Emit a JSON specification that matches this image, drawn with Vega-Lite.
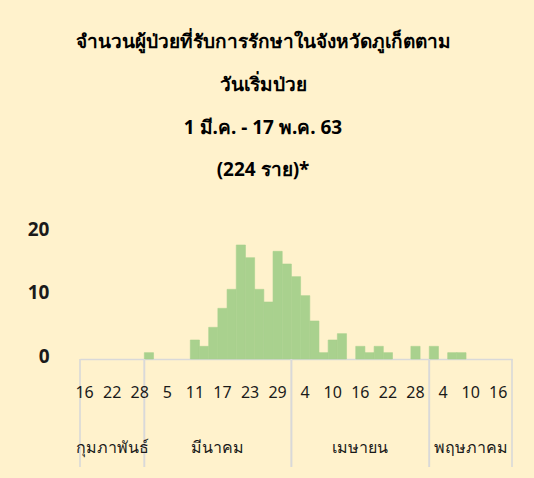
{
  "$schema": "https://vega.github.io/schema/vega-lite/v6.json",
  "width": 432,
  "height": 133,
  "autosize": {"type": "none"},
  "padding": {"left": 80, "top": 226, "right": 22, "bottom": 119},
  "background": "#FFF2CC",
  "title": {
    "text": ["จำนวนผู้ป่วยที่รับการรักษาในจังหวัดภูเก็ตตาม", "วันเริ่มป่วย", "1 มี.ค.  - 17 พ.ค. 63", "(224 ราย)*"],
    "fontSize": 19,
    "fontWeight": "bold",
    "lineHeight": 42.7,
    "color": "#000000",
    "anchor": "middle",
    "frame": "group",
    "dx": -33,
    "offset": 40
  },
  "config": {
    "font": "Noto Sans",
    "view": {"stroke": null},
    "axis": {"grid": false}
  },
  "datasets": {
    "cases": [
      {"d": "2020-02-16", "n": 0}, {"d": "2020-02-18", "n": 0}, {"d": "2020-02-20", "n": 0},
      {"d": "2020-02-22", "n": 0}, {"d": "2020-02-24", "n": 0}, {"d": "2020-02-26", "n": 0},
      {"d": "2020-02-28", "n": 0}, {"d": "2020-03-01", "n": 1}, {"d": "2020-03-03", "n": 0},
      {"d": "2020-03-05", "n": 0}, {"d": "2020-03-07", "n": 0}, {"d": "2020-03-09", "n": 0},
      {"d": "2020-03-11", "n": 3}, {"d": "2020-03-13", "n": 2}, {"d": "2020-03-15", "n": 5},
      {"d": "2020-03-17", "n": 8}, {"d": "2020-03-19", "n": 11}, {"d": "2020-03-21", "n": 18},
      {"d": "2020-03-23", "n": 16}, {"d": "2020-03-25", "n": 11}, {"d": "2020-03-27", "n": 9},
      {"d": "2020-03-29", "n": 17}, {"d": "2020-03-31", "n": 15}, {"d": "2020-04-02", "n": 13},
      {"d": "2020-04-04", "n": 10}, {"d": "2020-04-06", "n": 6}, {"d": "2020-04-08", "n": 1},
      {"d": "2020-04-10", "n": 3}, {"d": "2020-04-12", "n": 4}, {"d": "2020-04-14", "n": 0},
      {"d": "2020-04-16", "n": 2}, {"d": "2020-04-18", "n": 1}, {"d": "2020-04-20", "n": 2},
      {"d": "2020-04-22", "n": 1}, {"d": "2020-04-24", "n": 0}, {"d": "2020-04-26", "n": 0},
      {"d": "2020-04-28", "n": 2}, {"d": "2020-04-30", "n": 0}, {"d": "2020-05-02", "n": 2},
      {"d": "2020-05-04", "n": 0}, {"d": "2020-05-06", "n": 1}, {"d": "2020-05-08", "n": 1},
      {"d": "2020-05-10", "n": 0}, {"d": "2020-05-12", "n": 0}, {"d": "2020-05-14", "n": 0},
      {"d": "2020-05-16", "n": 0}, {"d": "2020-05-18", "n": 0}
    ],
    "dayLabels": [
      {"d": "2020-02-16", "day": "16"}, {"d": "2020-02-22", "day": "22"}, {"d": "2020-02-28", "day": "28"},
      {"d": "2020-03-05", "day": "5"}, {"d": "2020-03-11", "day": "11"}, {"d": "2020-03-17", "day": "17"},
      {"d": "2020-03-23", "day": "23"}, {"d": "2020-03-29", "day": "29"}, {"d": "2020-04-04", "day": "4"},
      {"d": "2020-04-10", "day": "10"}, {"d": "2020-04-16", "day": "16"}, {"d": "2020-04-22", "day": "22"},
      {"d": "2020-04-28", "day": "28"}, {"d": "2020-05-04", "day": "4"}, {"d": "2020-05-10", "day": "10"},
      {"d": "2020-05-16", "day": "16"}
    ],
    "months": [
      {"month": "กุมภาพันธ์", "first": "2020-02-16", "last": "2020-02-28", "mid": "2020-02-22", "even": false},
      {"month": "มีนาคม", "first": "2020-03-01", "last": "2020-03-31", "mid": "2020-03-17", "even": true},
      {"month": "เมษายน", "first": "2020-04-02", "last": "2020-04-30", "mid": "2020-04-16", "even": false},
      {"month": "พฤษภาคม", "first": "2020-05-02", "last": "2020-05-18", "mid": "2020-05-10", "even": false}
    ]
  },
  "layer": [
    {
      "data": {"name": "cases"},
      "mark": {"type": "bar", "color": "#A9D18E", "stroke": "#A9D18E", "strokeWidth": 0.6},
      "encoding": {
        "x": {
          "field": "d",
          "type": "ordinal",
          "scale": {"paddingInner": 0, "paddingOuter": 0},
          "axis": {
            "title": null,
            "labels": false,
            "ticks": false,
            "domainColor": "#D9D9D9",
            "domainWidth": 1.6
          }
        },
        "y": {
          "field": "n",
          "type": "quantitative",
          "scale": {"domain": [0, 21], "nice": false},
          "axis": {
            "title": null,
            "values": [0, 10, 20],
            "domain": false,
            "ticks": false,
            "labelFontSize": 19,
            "labelFontWeight": "bold",
            "labelColor": "#1a1a1a",
            "labelPadding": 31,
            "labelOffset": -3
          }
        },
        "strokeOpacity": {"condition": {"test": "datum.n == 0", "value": 0}, "value": 1}
      }
    },
    {
      "data": {"name": "months"},
      "mark": {"type": "rule", "color": "#D9D9D9", "strokeWidth": 1.6},
      "encoding": {
        "x": {"field": "first", "type": "ordinal", "bandPosition": 0, "title": null},
        "y": {"datum": 0},
        "y2": {"datum": -17.05}
      }
    },
    {
      "data": {"name": "months"},
      "mark": {"type": "rule", "color": "#D9D9D9", "strokeWidth": 1.6},
      "encoding": {
        "x": {"field": "last", "type": "ordinal", "bandPosition": 1, "title": null},
        "y": {"datum": 0},
        "y2": {"datum": -17.05}
      }
    },
    {
      "data": {"name": "dayLabels"},
      "mark": {"type": "text", "fontSize": 16, "color": "#1a1a1a", "baseline": "middle"},
      "encoding": {
        "x": {"field": "d", "type": "ordinal", "bandPosition": 0.5, "title": null},
        "y": {"datum": -5.3},
        "text": {"field": "day"}
      }
    },
    {
      "data": {"name": "months"},
      "transform": [{"filter": "!datum.even"}],
      "mark": {"type": "text", "fontSize": 16, "color": "#1a1a1a", "baseline": "middle"},
      "encoding": {
        "x": {"field": "mid", "type": "ordinal", "bandPosition": 0.5, "title": null},
        "y": {"datum": -14.05},
        "text": {"field": "month"}
      }
    },
    {
      "data": {"name": "months"},
      "transform": [{"filter": "datum.even"}],
      "mark": {"type": "text", "fontSize": 16, "color": "#1a1a1a", "baseline": "middle"},
      "encoding": {
        "x": {"field": "mid", "type": "ordinal", "bandPosition": 0, "title": null},
        "y": {"datum": -14.05},
        "text": {"field": "month"}
      }
    }
  ]
}
